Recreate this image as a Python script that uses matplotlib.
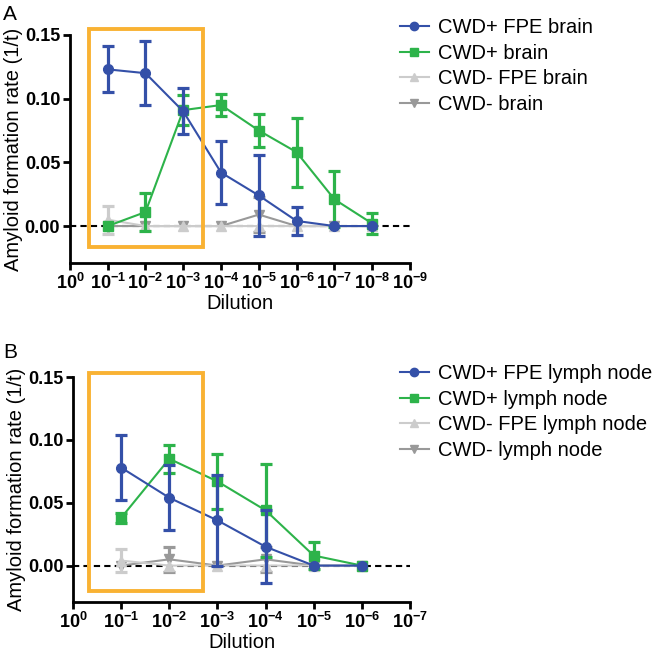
import numpy as np
import matplotlib
matplotlib.use("Agg")
import matplotlib.pyplot as plt
from matplotlib.patches import Rectangle
from matplotlib.lines import Line2D

plt.rcParams['font.family'] = ['Liberation Sans', 'DejaVu Sans']
plt.rcParams['mathtext.fontset'] = 'custom'
plt.rcParams['mathtext.rm'] = 'Liberation Sans'
plt.rcParams['mathtext.bf'] = 'Liberation Sans:bold'

# panel A: brain, dilution exponent 1..8
dil_a = [1, 2, 3, 4, 5, 6, 7, 8]
fpe_pos_brain = [0.123, 0.120, 0.090, 0.042, 0.024, 0.004, 0.0, 0.0]
fpe_pos_brain_err = [0.018, 0.025, 0.018, 0.025, 0.032, 0.011, 0.0, 0.0]
pos_brain = [0.0, 0.011, 0.091, 0.095, 0.075, 0.058, 0.021, 0.002]
pos_brain_err = [0.0, 0.015, 0.012, 0.009, 0.013, 0.027, 0.022, 0.008]
fpe_neg_brain = [0.005, 0.0, 0.0, 0.0, 0.0, 0.0, 0.0, 0.0]
fpe_neg_brain_err = [0.011, 0.0, 0.0, 0.0, 0.0, 0.0, 0.0, 0.0]
neg_brain = [0.0, 0.0, 0.0, 0.0, 0.009, 0.0, 0.0, 0.0]
neg_brain_err = [0.0, 0.0, 0.0, 0.0, 0.014, 0.0, 0.0, 0.0]

# panel B: lymph node, dilution exponent 1..6
dil_b = [1, 2, 3, 4, 5, 6]
fpe_pos_ln = [0.078, 0.054, 0.036, 0.015, 0.0, 0.0]
fpe_pos_ln_err = [0.026, 0.026, 0.036, 0.029, 0.0, 0.0]
pos_ln = [0.038, 0.085, 0.067, 0.044, 0.008, 0.0]
pos_ln_err = [0.004, 0.011, 0.022, 0.037, 0.011, 0.0]
fpe_neg_ln = [0.004, 0.0, 0.0, 0.0, 0.0, 0.0]
fpe_neg_ln_err = [0.009, 0.0, 0.0, 0.0, 0.0, 0.0]
neg_ln = [0.0, 0.005, 0.0, 0.005, 0.0, 0.0]
neg_ln_err = [0.0, 0.010, 0.0, 0.010, 0.0, 0.0]

labels_a = ['CWD+ FPE brain', 'CWD+ brain', 'CWD- FPE brain', 'CWD- brain']
labels_b = ['CWD+ FPE lymph node', 'CWD+ lymph node', 'CWD- FPE lymph node', 'CWD- lymph node']

colors = ['#3450a8', '#2db34a', '#cccccc', '#999999']
markers = ['o', 's', '^', 'v']
orange = '#f9b233'


def draw_panel(fig, ax, x, series, errs, labels, nmax, box, leg_top):
    ax.plot([0, nmax], [0, 0], color='black', ls=(0, (3, 2)), lw=1.5, zorder=1)
    x = np.array(x)
    # grey ones first so the coloured ones sit on top
    for i in [3, 2, 1, 0]:
        y = np.array(series[i])
        e = np.array(errs[i])
        z = 3 + (3 - i) * 2
        ax.plot(x, y, color=colors[i], marker=markers[i], markersize=7, lw=1.5, zorder=z)
        m = e > 0
        ax.errorbar(x[m], y[m], yerr=e[m], fmt='none', ecolor=colors[i],
                    elinewidth=2.3, capsize=4.5, capthick=2.3, zorder=z)
    ax.add_patch(Rectangle((box[0], box[2]), box[1] - box[0], box[3] - box[2],
                           fill=False, edgecolor=orange, lw=2.8, zorder=20,
                           clip_on=False))
    ax.set_xlim(0, nmax)
    ax.set_ylim(-0.029, 0.15)
    ax.set_yticks([0.0, 0.05, 0.10, 0.15])
    ax.set_yticklabels(['0.00', '0.05', '0.10', '0.15'], fontweight='bold', fontsize=13)
    ax.set_xticks(range(nmax + 1))
    ax.set_xticklabels([r'$\mathbf{10^{%s}}$' % ('0' if k == 0 else '-%d' % k)
                        for k in range(nmax + 1)], fontsize=13)
    for s in ['top', 'right']:
        ax.spines[s].set_visible(False)
    ax.spines['left'].set_linewidth(2)
    ax.spines['bottom'].set_linewidth(2)
    ax.tick_params(width=2, length=5, direction='out', pad=2)
    ax.set_xlabel('Dilution', fontsize=14.5, labelpad=0.5)
    ax.set_ylabel('Amyloid formation rate (1/t)', fontsize=14.5, labelpad=1)
    handles = [Line2D([], [], color=colors[i], marker=markers[i], markersize=6, lw=1.5)
               for i in range(4)]
    ax.legend(handles, labels, loc='upper left', bbox_to_anchor=(0.588, leg_top),
              bbox_transform=fig.transFigure, frameon=False,
              fontsize=14.5, handlelength=1.45, handletextpad=0.45, labelspacing=0.33,
              borderaxespad=0)


fig = plt.figure(figsize=(6.66, 6.5), dpi=100)
ax1 = fig.add_axes([0.105, 0.5954, 0.5105, 0.3508])
ax2 = fig.add_axes([0.1096, 0.0738, 0.506, 0.346])

draw_panel(fig, ax1, dil_a, [fpe_pos_brain, pos_brain, fpe_neg_brain, neg_brain],
           [fpe_pos_brain_err, pos_brain_err, fpe_neg_brain_err, neg_brain_err],
           labels_a, 9, (0.5, 3.53, -0.0165, 0.1547), 0.9846)
draw_panel(fig, ax2, dil_b, [fpe_pos_ln, pos_ln, fpe_neg_ln, neg_ln],
           [fpe_pos_ln_err, pos_ln_err, fpe_neg_ln_err, neg_ln_err],
           labels_b, 7, (0.33, 2.7, -0.02, 0.153), 0.4523)

fig.text(0.005, 0.992, 'A', fontsize=15, va='top', ha='left')
fig.text(0.005, 0.472, 'B', fontsize=15, va='top', ha='left')

fig.savefig('out.png', dpi=100)
